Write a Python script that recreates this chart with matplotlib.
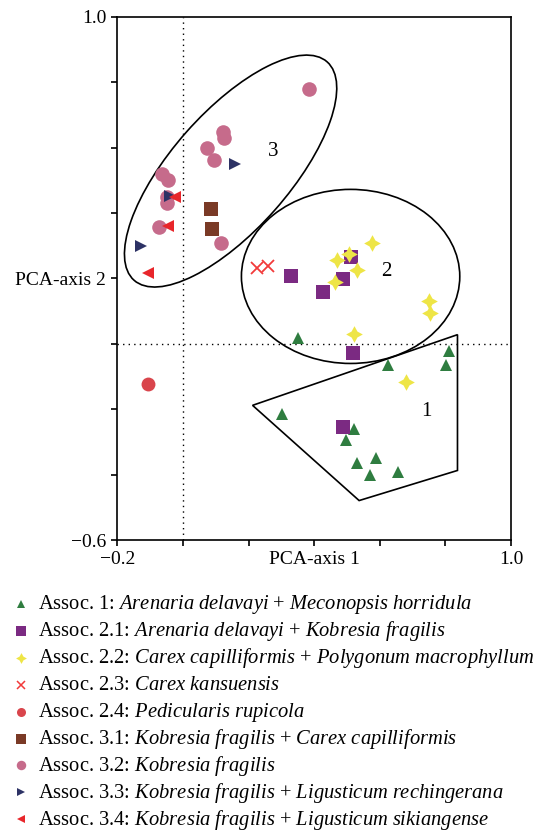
import matplotlib
matplotlib.use("Agg")
import matplotlib.pyplot as plt
from matplotlib.patches import Ellipse, Polygon

plt.rcParams['font.family'] = 'Liberation Serif'
plt.rcParams['mathtext.fontset'] = 'custom'
plt.rcParams['mathtext.rm'] = 'Liberation Serif'
plt.rcParams['mathtext.it'] = 'Liberation Serif:italic'

# sample scores on the two PCA axes, per association
a1_x = [0.350, 0.811, 0.802, 0.624, 0.302, 0.520, 0.498, 0.587, 0.532, 0.569, 0.657]
a1_y = [0.019, -0.022, -0.065, -0.064, -0.213, -0.261, -0.293, -0.348, -0.363, -0.400, -0.393]
a21_x = [0.328, 0.427, 0.488, 0.511, 0.517, 0.487]
a21_y = [0.207, 0.157, 0.197, 0.265, -0.027, -0.255]
a22_x = [0.577, 0.507, 0.470, 0.531, 0.464, 0.749, 0.754, 0.522, 0.681]
a22_y = [0.308, 0.273, 0.255, 0.226, 0.189, 0.131, 0.095, 0.031, -0.117]
a23_x = [0.226, 0.260]
a23_y = [0.233, 0.237]
a24_x = [-0.106]
a24_y = [-0.122]
a31_x = [0.086, 0.089]
a31_y = [0.413, 0.352]
a32_x = [0.384, 0.122, 0.125, 0.074, 0.094, -0.063, -0.045, -0.050, -0.050, -0.073, 0.116]
a32_y = [0.780, 0.646, 0.628, 0.597, 0.561, 0.518, 0.500, 0.449, 0.429, 0.357, 0.309]
a33_x = [0.158, -0.040, -0.129]
a33_y = [0.549, 0.452, 0.298]
a34_x = [-0.025, -0.045, -0.108]
a34_y = [0.449, 0.359, 0.215]

labels = [
    r"Assoc. 1: $\mathit{Arenaria\ delavayi}$ + $\mathit{Meconopsis\ horridula}$",
    r"Assoc. 2.1: $\mathit{Arenaria\ delavayi}$ + $\mathit{Kobresia\ fragilis}$",
    r"Assoc. 2.2: $\mathit{Carex\ capilliformis}$ + $\mathit{Polygonum\ macrophyllum}$",
    r"Assoc. 2.3: $\mathit{Carex\ kansuensis}$",
    r"Assoc. 2.4: $\mathit{Pedicularis\ rupicola}$",
    r"Assoc. 3.1: $\mathit{Kobresia\ fragilis}$ + $\mathit{Carex\ capilliformis}$",
    r"Assoc. 3.2: $\mathit{Kobresia\ fragilis}$",
    r"Assoc. 3.3: $\mathit{Kobresia\ fragilis}$ + $\mathit{Ligusticum\ rechingerana}$",
    r"Assoc. 3.4: $\mathit{Kobresia\ fragilis}$ + $\mathit{Ligusticum\ sikiangense}$",
]

# group outlines (drawn by hand in the original)
ell2 = (0.511, 0.206, 0.666, 0.532, 0)
ell3 = (0.145, 0.528, 0.890, 0.360, 48.6)
poly1_x = [0.212, 0.837, 0.837, 0.537]
poly1_y = [-0.188, 0.028, -0.387, -0.479]

W, H = 535, 831
fig = plt.figure(figsize=(W / 100, H / 100), dpi=100)
ax = fig.add_axes([0.2196, 0.350, 0.7354, 0.630])

ax.axvline(0, color='black', lw=1, ls=(0, (1, 3)), zorder=1)
ax.axhline(0, color='black', lw=1, ls=(0, (1, 3)), zorder=1)

for cx, cy, w, h, ang in [ell2, ell3]:
    ax.add_patch(Ellipse((cx, cy), w, h, angle=ang, fill=False, ec='black', lw=1.2, zorder=2))
ax.add_patch(Polygon(list(zip(poly1_x, poly1_y)), closed=True, fill=False, ec='black', lw=1.2, zorder=2))

ax.text(0.741, -0.206, "1", fontsize=15, ha='center', va='center')
ax.text(0.621, 0.220, "2", fontsize=15, ha='center', va='center')
ax.text(0.275, 0.587, "3", fontsize=15, ha='center', va='center')

groups = [
    (a1_x, a1_y, '^', '#2f7d40', 8),
    (a21_x, a21_y, 's', '#7b2a82', 10),
    (a22_x, a22_y, (4, 1, 0), '#eee546', 12),
    (a23_x, a23_y, 'x', '#f23a3a', 8),
    (a24_x, a24_y, 'o', '#d9454c', 10),
    (a31_x, a31_y, 's', '#7a3a26', 10),
    (a32_x, a32_y, 'o', '#c66b8b', 10.5),
    (a33_x, a33_y, '>', '#2d3265', 8),
    (a34_x, a34_y, '<', '#e8262b', 8),
]

for xs, ys, m, c, s in groups:
    ax.plot(xs, ys, ls='none', marker=m, color=c, ms=s,
            mew=1.3 if m == 'x' else 0, zorder=3)

ax.set_xlim(-0.2, 1.0)
ax.set_ylim(-0.6, 1.0)
ax.set_xticks([-0.2, 0.0, 0.2, 0.4, 0.6, 0.8, 1.0])
ax.set_xticklabels(['\u22120.2', '', '', 'PCA-axis 1', '', '', '1.0'])
ax.set_yticks([-0.6, -0.4, -0.2, 0.0, 0.2, 0.4, 0.6, 0.8, 1.0])
ax.set_yticklabels(['\u22120.6', '', '', '', 'PCA-axis 2', '', '', '', '1.0'])
ax.tick_params(direction='out', length=4, width=1.2, labelsize=14, pad=4)
for sp in ax.spines.values():
    sp.set_linewidth(1.2)

# legend below the plot, laid out in pixel coordinates
lax = fig.add_axes([0, 0, 1, 1], zorder=-1)
lax.set_xlim(0, W)
lax.set_ylim(H, 0)
lax.axis('off')
for i, ((xs, ys, m, c, s), lab) in enumerate(zip(groups, labels)):
    yc = 604 + i * 26.9
    lax.plot([21], [yc], ls='none', marker=m, color=c, ms=s * 0.65,
             mew=1.1 if m == 'x' else 0)
    lax.text(38, yc + 5.5, lab, fontsize=14.8, ha='left', va='baseline')

fig.savefig("out.png", dpi=100)
